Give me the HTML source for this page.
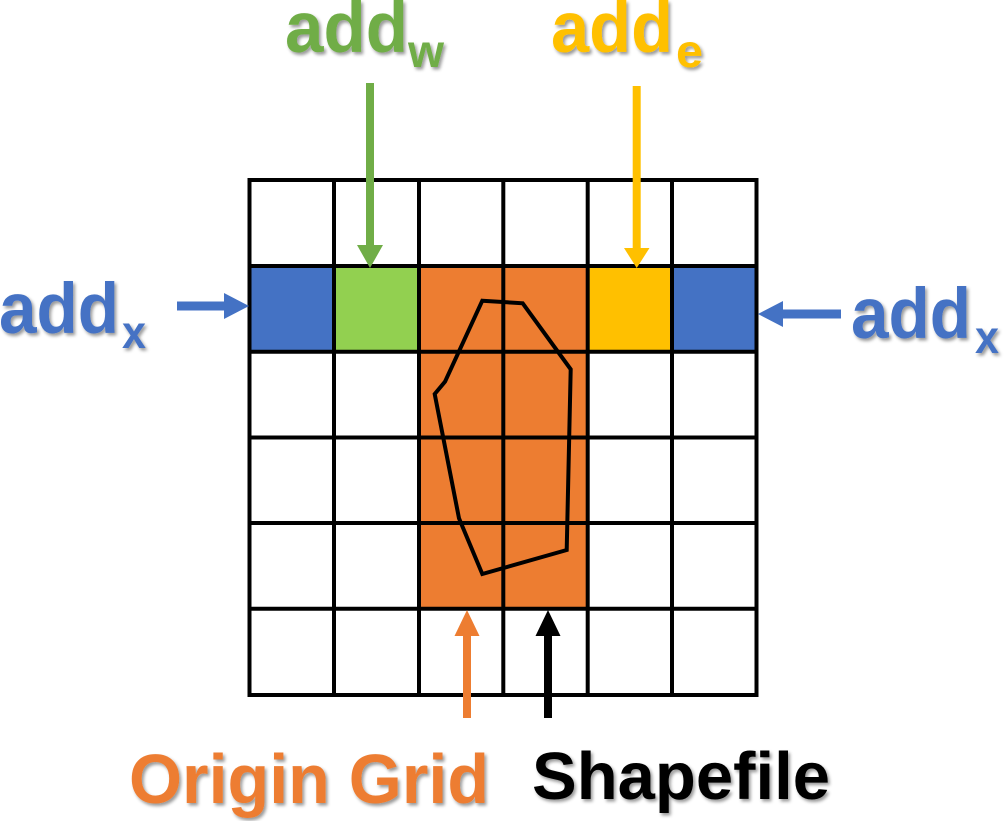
<!DOCTYPE html>
<html>
<head>
<meta charset="utf-8">
<style>
html,body{margin:0;padding:0;background:#fff;width:1004px;height:821px;overflow:hidden}
svg{display:block}
text{font-family:"Liberation Sans",sans-serif;font-weight:bold}
</style>
</head>
<body>
<svg width="1004" height="821" viewBox="0 0 1004 821" xmlns="http://www.w3.org/2000/svg">
<defs>
<filter id="s" x="-10%" y="-10%" width="120%" height="130%">
<feDropShadow dx="2" dy="2.5" stdDeviation="1.6" flood-color="#000" flood-opacity="0.4"/>
</filter>
</defs>
<rect width="1004" height="821" fill="#fff"/>
<!-- fills -->
<rect x="249" y="266" width="85" height="86" fill="#4472C4"/>
<rect x="334" y="266" width="85" height="86" fill="#92D050"/>
<rect x="419" y="266" width="169" height="343" fill="#ED7D31"/>
<rect x="588" y="266" width="84" height="86" fill="#FFC000"/>
<rect x="672" y="266" width="85" height="86" fill="#4472C4"/>
<!-- grid -->
<g stroke="#000" stroke-width="4" fill="none">
<path d="M249.5 178V697M334 180V695M419 180V695M503.3 180V695M587.7 180V695M672 180V695M756.5 178V697"/>
<path d="M248 180H758.500M248 266H758.500M248 351.700H758.500M248 437.500H758.500M248 523H758.500M248 608.700H758.500M248 695H758.500"/>
</g>
<!-- shapefile -->
<polygon points="482.3,300.7 522.7,303.3 570.7,369.3 566.7,550 482.3,574 459,518.3 434.7,394 445,381.7" fill="none" stroke="#000" stroke-width="4"/>
<!-- arrows -->
<path d="M366 83H374V245H383L370 268L357 245H366Z" fill="#70AD47"/>
<path d="M632.7 86H640.7V248H649.5L636.7 268L624 248H632.7Z" fill="#FFC000"/>
<path d="M177 301.5H224V293L249 306L224 319V310.5H177Z" fill="#4472C4"/>
<path d="M841 309.5H783V301L758 314L783 327V318.5H841Z" fill="#4472C4"/>
<path d="M463 718V636H454.5L467 610L479.5 636H471V718Z" fill="#ED7D31"/>
<path d="M544 718V636H535.5L548 610L560.5 636H552V718Z" fill="#000"/>
<!-- labels -->
<g filter="url(#s)">
<text x="285" y="52" font-size="71" fill="#70AD47" textLength="123" lengthAdjust="spacingAndGlyphs">add</text>
<text x="408" y="67" font-size="46" fill="#70AD47" textLength="36" lengthAdjust="spacingAndGlyphs">w</text>
<text x="551" y="52" font-size="71" fill="#FFC000" textLength="122" lengthAdjust="spacingAndGlyphs">add</text>
<text x="676" y="67" font-size="46" fill="#FFC000" textLength="27" lengthAdjust="spacingAndGlyphs">e</text>
<text x="-1" y="333" font-size="71" fill="#4472C4" textLength="120" lengthAdjust="spacingAndGlyphs">add</text>
<text x="122" y="348" font-size="46" fill="#4472C4" textLength="24" lengthAdjust="spacingAndGlyphs">x</text>
<text x="851" y="338" font-size="71" fill="#4472C4" textLength="120" lengthAdjust="spacingAndGlyphs">add</text>
<text x="975" y="353" font-size="46" fill="#4472C4" textLength="24" lengthAdjust="spacingAndGlyphs">x</text>
<text x="129" y="803" font-size="70" fill="#ED7D31" textLength="360" lengthAdjust="spacingAndGlyphs">Origin Grid</text>
<text x="532" y="799" font-size="67" fill="#000" textLength="298" lengthAdjust="spacingAndGlyphs">Shapefile</text>
</g>
</svg>
</body>
</html>
